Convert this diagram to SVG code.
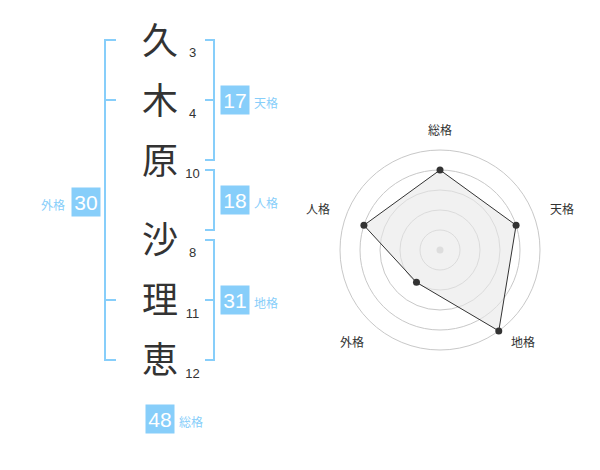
<svg xmlns="http://www.w3.org/2000/svg" width="600" height="470" viewBox="0 0 600 470">
<style>
.kanji{font-family:"Noto Sans CJK JP","Noto Sans CJK SC",sans-serif;font-size:36px;fill:#333;text-anchor:middle}
.num{font-family:"Liberation Sans",Arial,sans-serif;font-size:13px;fill:#333;text-anchor:middle}
.br{fill:none;stroke:#87CEFA;stroke-width:2}
.box{fill:#87CEFA}
.bn{font-family:"Liberation Sans",Arial,sans-serif;font-size:21px;fill:#fff;text-anchor:middle}
.lb{font-family:"Noto Sans CJK JP","Noto Sans CJK SC",sans-serif;font-size:12px;fill:#87CEFA}
.rl{font-family:"Noto Sans CJK JP","Noto Sans CJK SC",sans-serif;font-size:12px;fill:#333;text-anchor:middle}
.ring{fill:none;stroke:#c8c8c8;stroke-width:1}
.pt{fill:#333}
</style>
<rect width="600" height="470" fill="#fff"/>
<g id="name-chars">
<text class="kanji" x="160" y="54">久</text>
<text class="kanji" x="160" y="114">木</text>
<text class="kanji" x="160" y="174">原</text>
<text class="kanji" x="160" y="253">沙</text>
<text class="kanji" x="160" y="313">理</text>
<text class="kanji" x="160" y="373">恵</text>
</g>
<g id="stroke-counts">
<text class="num" x="192.5" y="57">3</text>
<text class="num" x="192.5" y="118">4</text>
<text class="num" x="192.5" y="178">10</text>
<text class="num" x="192.5" y="257">8</text>
<text class="num" x="192.5" y="318">11</text>
<text class="num" x="192.5" y="378">12</text>
</g>
<g id="connectors">
<path class="br" d="M116,40 H105 V360 H116 M105,100 H116 M105,300 H116"/>
<path class="br" d="M205,40 H214 V160 H205 M214,100 H205"/>
<path class="br" d="M205,170 H214 V230 H205"/>
<path class="br" d="M205,240 H214 V360 H205 M214,300 H205"/>
</g>
<g id="tenkaku">
<rect class="box" x="220.5" y="85.5" width="29" height="29"/>
<text class="bn" x="235" y="107.5">17</text>
<text class="lb" x="254" y="108">天格</text>
</g>
<g id="jinkaku">
<rect class="box" x="220.5" y="185.5" width="29" height="29"/>
<text class="bn" x="235" y="207.5">18</text>
<text class="lb" x="254" y="208">人格</text>
</g>
<g id="chikaku">
<rect class="box" x="220.5" y="285.5" width="29" height="29"/>
<text class="bn" x="235" y="307.5">31</text>
<text class="lb" x="254" y="308">地格</text>
</g>
<g id="gaikaku">
<rect class="box" x="71.5" y="187.5" width="29" height="29"/>
<text class="bn" x="86" y="209.5">30</text>
<text class="lb" x="41" y="210">外格</text>
</g>
<g id="soukaku">
<rect class="box" x="145.5" y="404.5" width="29" height="29"/>
<text class="bn" x="160" y="426.5">48</text>
<text class="lb" x="179" y="427">総格</text>
</g>
<g id="radar">
<circle class="ring" cx="440" cy="250" r="20"/>
<circle class="ring" cx="440" cy="250" r="40"/>
<circle class="ring" cx="440" cy="250" r="60"/>
<circle class="ring" cx="440" cy="250" r="80"/>
<circle class="ring" cx="440" cy="250" r="100"/>
<circle cx="440" cy="250" r="3.5" fill="#ccc"/>
<polygon points="440,170 516.08,225.28 498.78,330.9 416.49,282.36 363.92,225.28" fill="#e8e8e8" fill-opacity="0.6" stroke="#333" stroke-width="1"/>
<circle class="pt" cx="440" cy="170" r="3.5"/>
<circle class="pt" cx="516.08" cy="225.28" r="3.5"/>
<circle class="pt" cx="498.78" cy="330.9" r="3.5"/>
<circle class="pt" cx="416.49" cy="282.36" r="3.5"/>
<circle class="pt" cx="363.92" cy="225.28" r="3.5"/>
<text class="rl" x="440" y="134.5">総格</text>
<text class="rl" x="562" y="213.5">天格</text>
<text class="rl" x="523" y="346.5">地格</text>
<text class="rl" x="352" y="346.5">外格</text>
<text class="rl" x="318" y="213.5">人格</text>
</g>
</svg>
